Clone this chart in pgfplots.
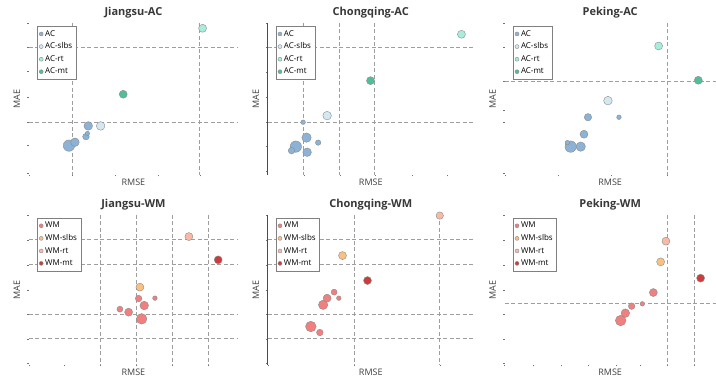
\documentclass[border=0pt]{standalone}
\usepackage{fontspec}
\setmainfont{Open Sans}
\usepackage{pgfplots}
\pgfplotsset{compat=1.18}
\definecolor{cAC}{RGB}{140,178,214}
\definecolor{cACs}{RGB}{212,232,240}
\definecolor{cACr}{RGB}{168,236,220}
\definecolor{cACm}{RGB}{80,190,155}
\definecolor{cWM}{RGB}{240,128,128}
\definecolor{cWMs}{RGB}{250,192,130}
\definecolor{cWMr}{RGB}{250,185,165}
\definecolor{cWMm}{RGB}{205,60,60}
\pgfplotsset{
  bub/.style={scatter, only marks, mark=*, color=#1,
    mark options={draw=black!45, fill=#1, line width=0.4pt},
    scatter/use mapped color={draw=black!45, fill=#1},
    visualization depends on={\thisrow{r}\as\rr},
    scatter/@pre marker code/.append style={/tikz/mark size=\rr},
    legend image post style={mark size=2pt, draw=none}},
  panel/.style={scale only axis, y dir=reverse, clip=false,
    axis lines*=left,
    x axis line style={draw=none}, y axis line style={draw=none},
    xticklabels={}, yticklabels={},
    extra x tick labels={}, extra y tick labels={},
    extra x tick style={grid=major, major tick length=0pt},
    extra y tick style={grid=major, major tick length=0pt},
    major grid style={black!38, line width=0.8pt, dash pattern=on 4pt off 2.5pt},
    tick style={black!55, line width=0.5pt}, major tick length=1.5pt, tick align=outside,
    title style={font=\fontsize{11}{13}\selectfont\bfseries, text=black!78, yshift=-5pt},
    xlabel=RMSE, ylabel=MAE,
    label style={font=\fontsize{9}{10}\selectfont, text=black!75},
    xlabel style={at={(axis description cs:0.5,0)}, anchor=north, yshift=-1pt},
    ylabel style={at={(axis description cs:-0.025,0.5)}, anchor=south},
    legend cell align=left,
    legend style={at={(axis description cs:0.038,0.98)}, anchor=north west,
      font=\fontsize{8}{9.5}\selectfont, draw=black!50, line width=0.6pt,
      inner sep=2pt, row sep=1.2pt},
  }
}
\begin{document}
\begin{tikzpicture}
\path (0pt,0pt) rectangle (716pt,381pt);
% ---------- Jiangsu-AC ----------
\begin{axis}[panel, at={(29pt,206pt)}, anchor=south west, width=209pt, height=152pt,
  xmin=29, xmax=238, ymin=23, ymax=175, title=Jiangsu-AC,
  xtick={29,72,115,158,200}, ytick={23.3,47.7,71.7,97.7,122.3,145.7,173.3},
  extra x ticks={72,200}, extra y ticks={47.7,122.3}]
\addplot[bub=cAC] table[row sep=\\]{x y r\\ 69 145.7 5.7\\ 75 142.3 4.3\\ 86 136.7 3.3\\ 87.5 133.5 2.2\\ 88.3 126 4.3\\};
\addplot[bub=cACs] table[row sep=\\]{x y r\\ 100.7 126 4.3\\};
\addplot[bub=cACr] table[row sep=\\]{x y r\\ 202.7 28.3 4\\};
\addplot[bub=cACm] table[row sep=\\]{x y r\\ 123.3 94.3 4\\};
\legend{AC,AC-slbs,AC-rt,AC-mt}
\end{axis}
% ---------- Chongqing-AC ----------
\begin{axis}[panel, at={(268pt,206pt)}, anchor=south west, width=206pt, height=152pt,
  xmin=28, xmax=234, ymin=23, ymax=175, title=Chongqing-AC,
  y axis line style={draw=black!70, line width=1.2pt},
  xtick={64,100,135,172,207}, ytick={23.3,47.7,72,97,122.3,146.7,171.7},
  extra x ticks={64,100,135}, extra y ticks={47.7,122.3}]
\addplot[bub=cAC] table[row sep=\\]{x y r\\ 56 146.7 5.7\\ 51.7 150.7 3.3\\ 66.7 137.7 4.7\\ 67.3 152.3 4.3\\ 78.3 142.7 2.7\\ 63.3 122.3 2.3\\};
\addplot[bub=cACs] table[row sep=\\]{x y r\\ 87.3 115.7 4.3\\};
\addplot[bub=cACr] table[row sep=\\]{x y r\\ 221.7 34.3 4\\};
\addplot[bub=cACm] table[row sep=\\]{x y r\\ 130.7 80.7 4\\};
\legend{AC,AC-slbs,AC-rt,AC-mt}
\end{axis}
% ---------- Peking-AC ----------
\begin{axis}[panel, at={(505pt,206pt)}, anchor=south west, width=211pt, height=152pt,
  xmin=29, xmax=240, ymin=23, ymax=175, title=Peking-AC,
  xtick={30,83,136,191.7}, ytick={23.3,47.7,81.7,110,122.3,173},
  extra x ticks={191.7}, extra y ticks={81.7}]
\addplot[bub=cAC] table[row sep=\\]{x y r\\ 95 146.7 5.7\\ 91.7 142.7 2.3\\ 105 146.7 4.7\\ 108.3 134.3 4\\ 112.3 117.3 3.7\\ 143.3 117.3 2.3\\};
\addplot[bub=cACs] table[row sep=\\]{x y r\\ 132.3 100.7 4.3\\};
\addplot[bub=cACr] table[row sep=\\]{x y r\\ 183 46 4\\};
\addplot[bub=cACm] table[row sep=\\]{x y r\\ 222.7 80.3 4\\};
\legend{AC,AC-slbs,AC-rt,AC-mt}
\end{axis}
% ---------- Jiangsu-WM ----------
\begin{axis}[panel, at={(29pt,16pt)}, anchor=south west, width=209pt, height=150pt,
  xmin=29, xmax=238, ymin=25, ymax=175, title=Jiangsu-WM,
  xtick={29,64,100,136.7,172.7,208.3}, ytick={25,50,75,100,124.3,149,173.3},
  extra x ticks={100,136.7,172.7,208.3}, extra y ticks={50,75,124.3,149}]
\addplot[bub=cWM] table[row sep=\\]{x y r\\ 141.7 129 5.3\\ 144.3 115.7 4.3\\ 128.7 122.3 4\\ 120 119.3 3\\ 138.7 108.7 3.3\\ 155 108.3 2.3\\};
\addplot[bub=cWMs] table[row sep=\\]{x y r\\ 140 97.3 4\\};
\addplot[bub=cWMr] table[row sep=\\]{x y r\\ 189 46.7 4\\};
\addplot[bub=cWMm] table[row sep=\\]{x y r\\ 218.3 70 4\\};
\legend{WM,WM-slbs,WM-rt,WM-mt}
\end{axis}
% ---------- Chongqing-WM ----------
\begin{axis}[panel, at={(268pt,16pt)}, anchor=south west, width=206pt, height=150pt,
  xmin=28, xmax=234, ymin=25, ymax=175, title=Chongqing-WM,
  y axis line style={draw=black!70, line width=1.2pt},
  xtick={28,114.3,200}, ytick={25,50,75,100,124.3,149,173.3},
  extra x ticks={114.3,200}, extra y ticks={50,75,124.3,149}]
\addplot[bub=cWM] table[row sep=\\]{x y r\\ 71 136.7 5.3\\ 80 142.7 3.3\\ 83.3 115 4.7\\ 87.3 108.3 4\\ 94.3 102.3 3\\ 99 108.3 2.3\\};
\addplot[bub=cWMs] table[row sep=\\]{x y r\\ 102.7 65.7 4\\};
\addplot[bub=cWMr] table[row sep=\\]{x y r\\ 200 25.7 3.7\\};
\addplot[bub=cWMm] table[row sep=\\]{x y r\\ 127.7 90.7 4\\};
\legend{WM,WM-slbs,WM-rt,WM-mt}
\end{axis}
% ---------- Peking-WM ----------
\begin{axis}[panel, at={(505pt,16pt)}, anchor=south west, width=211pt, height=150pt,
  xmin=29, xmax=240, ymin=25, ymax=175, title=Peking-WM,
  xtick={29,58,86,113,141,165,191.7,218.3}, ytick={25,50,75,100,124.3,149,173.3},
  extra x ticks={191.7,218.3}, extra y ticks={114}]
\addplot[bub=cWM] table[row sep=\\]{x y r\\ 145 130.7 5.3\\ 149.7 123.3 4.3\\ 156 116.3 3.3\\ 166.7 114 2.3\\ 177.7 102.7 4\\};
\addplot[bub=cWMs] table[row sep=\\]{x y r\\ 185 72 4\\};
\addplot[bub=cWMr] table[row sep=\\]{x y r\\ 190.3 51.3 4\\};
\addplot[bub=cWMm] table[row sep=\\]{x y r\\ 225 88.3 4\\};
\legend{WM,WM-slbs,WM-rt,WM-mt}
\end{axis}
\end{tikzpicture}
\end{document}
